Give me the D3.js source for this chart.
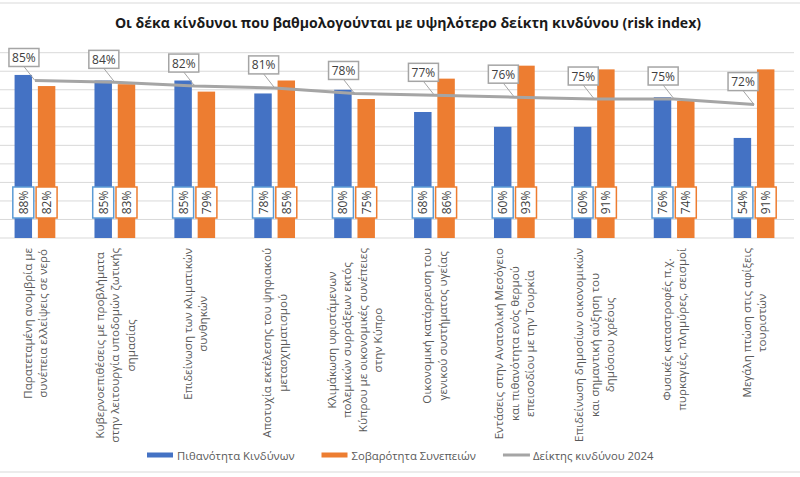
<!DOCTYPE html>
<html><head><meta charset="utf-8">
<script src="https://cdn.jsdelivr.net/npm/d3@7/dist/d3.min.js"></script>
<style>html,body{margin:0;padding:0;background:#fff;} svg{display:block;}</style>
</head><body>
<svg id="chart" width="800" height="477"></svg>
<script>
const title = "Οι δέκα κίνδυνοι που βαθμολογούνται με υψηλότερο δείκτη κινδύνου (risk index)";
const categories = [
  ["Παρατεταμένη ανομβρία με", "συνέπεια ελλείψεις σε νερό"],
  ["Κυβερνοεπιθέσεις με προβλήματα", "στην λειτουργία υποδομών ζωτικής", "σημασίας"],
  ["Επιδείνωση των κλιματικών", "συνθηκών"],
  ["Αποτυχία εκτέλεσης του ψηφιακού", "μετασχηματισμού"],
  ["Κλιμάκωση υφιστάμενων", "πολεμικών συρράξεων εκτός", "Κύπρου με οικονομικές συνέπειες", "στην Κύπρο"],
  ["Οικονομική κατάρρευση του", "γενικού συστήματος υγείας"],
  ["Εντάσεις στην Ανατολική Μεσόγειο", "και πιθανότητα ενός θερμού", "επεισοδίου με την Τουρκία"],
  ["Επιδείνωση δημοσίων οικονομικών", "και σημαντική αύξηση του", "δημόσιου χρέους"],
  ["Φυσικές καταστροφές π.χ.", "πυρκαγιές, πλημύρες, σεισμοί"],
  ["Μεγάλη πτώση στις αφίξεις", "τουριστών"]
];
const seriesNames = ["Πιθανότητα Κινδύνων", "Σοβαρότητα Συνεπειών", "Δείκτης κινδύνου 2024"];
const probability = [0.88, 0.85, 0.85, 0.78, 0.80, 0.68, 0.60, 0.60, 0.76, 0.54];
const severity    = [0.82, 0.83, 0.79, 0.85, 0.75, 0.86, 0.93, 0.91, 0.74, 0.91];
const riskIndex   = [0.85, 0.84, 0.82, 0.81, 0.78, 0.77, 0.76, 0.75, 0.75, 0.72];
const yTicks = [0, 0.1, 0.2, 0.3, 0.4, 0.5, 0.6, 0.7, 0.8, 0.9, 1.0];

const colors = {blue: "#4472c4", orange: "#ed7d31", gray: "#a5a5a5", blueLbl: "#5b9bd5"};
const font = "'Open Sans', 'Noto Sans', sans-serif";
const fmt = d3.format(".0%");

const svg = d3.select("#chart");
const idx = d3.range(categories.length);

// frame lines
svg.append("line").attr("x1", 0).attr("x2", 800).attr("y1", 3).attr("y2", 3).attr("stroke", "#d9d9d9");
svg.append("line").attr("x1", 0).attr("x2", 800).attr("y1", 472).attr("y2", 472).attr("stroke", "#d9d9d9");

// title
svg.append("text").attr("x", 408).attr("y", 28).attr("text-anchor", "middle")
  .attr("font-family", font).attr("font-weight", "bold").attr("font-size", 14.1).attr("fill", "#1a1a1a")
  .text(title);

const x0 = d3.scaleBand().domain(idx).range([-5, 794]).paddingInner(0.49).paddingOuter(0.245);
const x1 = d3.scaleBand().domain([0, 1]).range([0, x0.bandwidth()]).paddingInner(0.25);
const y = d3.scaleLinear().domain([0, 1]).range([238, 52.7]);
const cx = i => x0(i) + x0.bandwidth() / 2;

// gridlines
svg.append("g").selectAll("line").data(yTicks).join("line")
  .attr("x1", 0).attr("x2", 794)
  .attr("y1", d => y(d)).attr("y2", d => y(d))
  .attr("stroke", "#d9d9d9").attr("stroke-width", 1);

// bars
const bars = [probability, severity];
const barColors = [colors.blue, colors.orange];
const g = svg.append("g");
bars.forEach((vals, s) => {
  g.selectAll(null).data(idx).join("rect")
    .attr("x", i => x0(i) + x1(s))
    .attr("width", x1.bandwidth())
    .attr("y", i => y(vals[i]))
    .attr("height", i => y(0) - y(vals[i]))
    .attr("fill", barColors[s]);
});

// risk index line
const line = d3.line().x(i => cx(i)).y(i => y(riskIndex[i]));
svg.append("path").datum(idx).attr("d", line)
  .attr("fill", "none").attr("stroke", colors.gray).attr("stroke-width", 3);

// line labels with leader lines
const lblDx = -11, lblDy = -23, lblW = 30, lblH = 18;
const ll = svg.append("g");
idx.forEach(i => {
  const px = cx(i), py = y(riskIndex[i]);
  const bx = px + lblDx, by = py + lblDy;
  ll.append("line").attr("x1", bx).attr("y1", by + lblH / 2).attr("x2", px).attr("y2", py)
    .attr("stroke", colors.gray).attr("stroke-width", 1);
  ll.append("rect").attr("x", bx - lblW / 2).attr("y", by - lblH / 2).attr("width", lblW).attr("height", lblH)
    .attr("fill", "#fff").attr("stroke", colors.gray).attr("stroke-width", 1.5);
  ll.append("text").attr("x", bx).attr("y", by).attr("text-anchor", "middle").attr("dominant-baseline", "central")
    .attr("font-family", font).attr("font-size", 12).attr("fill", "#404040").text(fmt(riskIndex[i]));
});

// bar value labels (rotated)
const lblBorder = [colors.blueLbl, colors.orange];
const bl = svg.append("g");
bars.forEach((vals, s) => {
  idx.forEach(i => {
    const bx = x0(i) + x1(s) + x1.bandwidth() / 2, by = 202.5;
    bl.append("rect").attr("x", bx - 10.5).attr("y", by - 15.5).attr("width", 21).attr("height", 31)
      .attr("fill", "#fff").attr("stroke", lblBorder[s]).attr("stroke-width", 1.5);
    bl.append("text").attr("transform", `translate(${bx},${by}) rotate(-90)`)
      .attr("text-anchor", "middle").attr("dominant-baseline", "central")
      .attr("font-family", font).attr("font-size", 12).attr("fill", "#404040").text(fmt(vals[i]));
  });
});

// category labels (rotated -90, block end at axis)
const cl = svg.append("g");
const lineGap = 15.5;
categories.forEach((lines, i) => {
  const grp = cl.append("g");
  const texts = lines.map((t, k) => grp.append("text")
    .attr("font-family", font).attr("font-size", 11.6).attr("fill", "#595959")
    .attr("text-anchor", "middle").attr("dominant-baseline", "central").text(t));
  const maxW = d3.max(texts, t => t.node().getComputedTextLength());
  const yc = 248 + maxW / 2;
  texts.forEach((t, k) => {
    const xx = cx(i) + (k - (lines.length - 1) / 2) * lineGap;
    t.attr("transform", `translate(${xx},${yc}) rotate(-90)`);
  });
});

// legend
const leg = svg.append("g");
let lx = 147;
const ly = 455;
seriesNames.forEach((name, s) => {
  if (s < 2) {
    leg.append("rect").attr("x", lx).attr("y", ly - 2.5).attr("width", 26).attr("height", 5).attr("fill", barColors[s]);
  } else {
    leg.append("line").attr("x1", lx).attr("x2", lx + 27).attr("y1", ly).attr("y2", ly)
      .attr("stroke", colors.gray).attr("stroke-width", 3);
  }
  const t = leg.append("text").attr("x", lx + 30).attr("y", ly).attr("dominant-baseline", "central")
    .attr("font-family", font).attr("font-size", 11.3).attr("fill", "#595959").text(name);
  lx = lx + 30 + t.node().getComputedTextLength() + 27;
});
</script>
</body></html>
